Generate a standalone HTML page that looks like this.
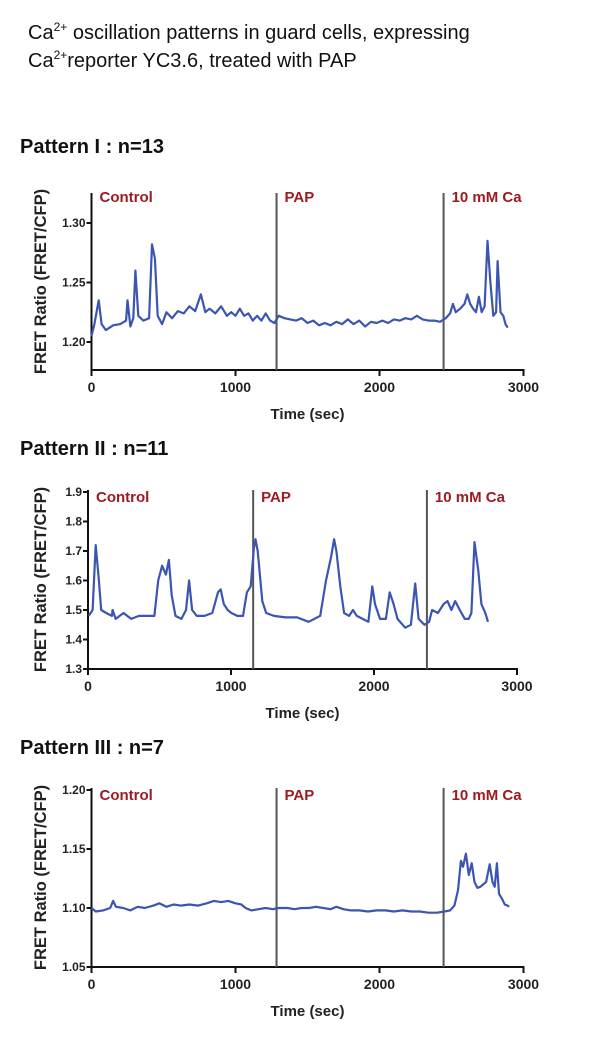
<!DOCTYPE html>
<html><head><meta charset="utf-8"><style>
html,body{margin:0;padding:0;background:#fff;}
svg text{font-family:"Liberation Sans",Arial,sans-serif;}
</style></head><body>
<svg id="fig" width="604" height="1043" viewBox="0 0 604 1043" xmlns="http://www.w3.org/2000/svg">
<text x="28" y="39" font-size="20" fill="#111">Ca<tspan font-size="12" dy="-8">2+</tspan><tspan dy="8"> oscillation patterns in guard cells, expressing</tspan></text>
<text x="28" y="67" font-size="20" fill="#111">Ca<tspan font-size="12" dy="-8">2+</tspan><tspan dy="8">reporter YC3.6, treated with PAP</tspan></text>
</svg>
<script>
// Pattern I data
const p1Times=[0,20,50,70,100,150,200,240,250,270,290,305,325,360,400,420,440,460,490,520,560,600,640,680,720,760,790,820,860,900,940,970,1000,1030,1060,1090,1120,1150,1180,1210,1240,1270,1300,1340,1380,1420,1460,1500,1540,1580,1620,1660,1700,1740,1780,1820,1860,1900,1940,1980,2020,2060,2100,2140,2180,2220,2260,2300,2340,2380,2420,2460,2490,2510,2530,2560,2590,2610,2630,2650,2670,2690,2710,2730,2750,2770,2790,2810,2820,2840,2860,2875,2890];
const p1Values=[1.205,1.215,1.235,1.215,1.210,1.214,1.215,1.218,1.235,1.213,1.220,1.260,1.222,1.218,1.220,1.282,1.270,1.222,1.215,1.225,1.220,1.226,1.224,1.230,1.226,1.240,1.225,1.228,1.224,1.230,1.222,1.225,1.222,1.228,1.222,1.224,1.218,1.222,1.218,1.224,1.218,1.216,1.222,1.220,1.219,1.218,1.220,1.216,1.218,1.214,1.216,1.214,1.217,1.215,1.219,1.215,1.218,1.213,1.217,1.216,1.218,1.216,1.219,1.218,1.220,1.219,1.222,1.219,1.218,1.218,1.217,1.220,1.224,1.232,1.225,1.228,1.232,1.240,1.232,1.228,1.225,1.238,1.225,1.230,1.285,1.250,1.222,1.225,1.268,1.225,1.222,1.215,1.212];
const p1YTicks=[1.20,1.25,1.30];
const p1Events=[1285,2445];
// Pattern II data
const p2Times=[5,32,54,73,92,127,167,172,194,248,302,356,410,464,491,518,545,566,585,612,653,685,707,728,761,815,869,909,928,950,977,1003,1044,1084,1111,1138,1160,1171,1187,1219,1246,1300,1381,1462,1543,1624,1664,1700,1721,1737,1764,1791,1826,1853,1880,1920,1961,1988,2007,2042,2083,2110,2137,2164,2218,2258,2288,2312,2353,2385,2406,2447,2487,2514,2541,2568,2600,2635,2662,2681,2703,2730,2751,2778,2797];
const p2Values=[1.48,1.50,1.72,1.62,1.50,1.49,1.48,1.50,1.47,1.49,1.47,1.48,1.48,1.48,1.60,1.65,1.62,1.67,1.55,1.48,1.47,1.50,1.60,1.50,1.48,1.48,1.49,1.56,1.57,1.52,1.50,1.49,1.48,1.48,1.56,1.58,1.71,1.74,1.70,1.53,1.49,1.48,1.475,1.475,1.46,1.48,1.60,1.68,1.74,1.70,1.58,1.49,1.48,1.50,1.48,1.47,1.46,1.58,1.52,1.47,1.47,1.56,1.52,1.47,1.44,1.45,1.59,1.47,1.45,1.46,1.50,1.49,1.52,1.53,1.50,1.53,1.50,1.47,1.47,1.49,1.73,1.63,1.52,1.49,1.46];
const p2YTicks=[1.3,1.4,1.5,1.6,1.7,1.8,1.9];
const p2Events=[1155,2370];
// Pattern III data
const p3Times=[0,30,80,130,150,170,220,270,320,370,430,470,520,570,620,680,740,800,850,900,950,1000,1040,1070,1110,1160,1210,1260,1300,1360,1410,1460,1510,1560,1610,1660,1700,1750,1800,1860,1920,1980,2040,2100,2160,2220,2280,2340,2400,2450,2490,2520,2545,2565,2580,2600,2620,2640,2660,2680,2700,2720,2740,2765,2785,2800,2815,2830,2850,2870,2890,2900];
const p3Values=[1.100,1.097,1.098,1.100,1.106,1.101,1.100,1.098,1.101,1.100,1.102,1.104,1.101,1.103,1.102,1.103,1.102,1.104,1.106,1.105,1.106,1.104,1.103,1.100,1.098,1.099,1.100,1.099,1.100,1.100,1.099,1.100,1.100,1.101,1.100,1.099,1.101,1.099,1.098,1.098,1.097,1.098,1.098,1.097,1.098,1.097,1.097,1.096,1.096,1.097,1.098,1.102,1.115,1.140,1.135,1.146,1.128,1.138,1.122,1.117,1.118,1.120,1.122,1.137,1.122,1.118,1.138,1.112,1.108,1.103,1.102,1.101];
const p3YTicks=[1.05,1.10,1.15,1.20];
const p3Events=[1285,2445];
const xTicks=[0,1000,2000,3000];
const eventLabels=["Control","PAP","10 mM Ca"];
const panelTitles=["Pattern I : n=13","Pattern II : n=11","Pattern III : n=7"];

const NS="http://www.w3.org/2000/svg";
const svg=document.getElementById('fig');
function mk(tag,attrs,parent){const e=document.createElementNS(NS,tag);for(const k in attrs)e.setAttribute(k,attrs[k]);(parent||svg).appendChild(e);return e;}

function panel(idx,cfg,times,values,yTicks,events){
  const g=mk('g',{});
  
  
  const xs=t=>cfg.x0+t*cfg.xk;
  const ys=v=>cfg.yRef-(v-cfg.vRef)*cfg.yk;
  const t=mk('text',{x:20,y:cfg.titleY,'font-size':20,'font-weight':'bold',fill:'#111'},g);
  t.textContent=panelTitles[idx];
  
  
  const ya=mk('line',{x1:xs(0),y1:cfg.top,x2:xs(0),y2:cfg.bottom,stroke:'#111','stroke-width':2},g);
  
  
  const xa=mk('line',{x1:xs(0)-1,y1:cfg.bottom,x2:xs(3000)+1,y2:cfg.bottom,stroke:'#111','stroke-width':2},g);
  
  
  yTicks.forEach(v=>{
    mk('line',{x1:xs(0)-5,y1:ys(v),x2:xs(0),y2:ys(v),stroke:'#111','stroke-width':2},g);
    const l=mk('text',{x:xs(0)-6,y:ys(v)+4,'font-size':12,'font-weight':'bold','text-anchor':'end',fill:'#222'},g);
    l.textContent=cfg.dec===1?v.toFixed(1):v.toFixed(2);
    
    
  });
  xTicks.forEach(v=>{
    mk('line',{x1:xs(v),y1:cfg.bottom,x2:xs(v),y2:cfg.bottom+6,stroke:'#111','stroke-width':2},g);
    const l=mk('text',{x:xs(v),y:cfg.bottom+22,'font-size':14,'font-weight':'bold','text-anchor':'middle',fill:'#222'},g);
    l.textContent=v;
    
    
  });
  const xt=mk('text',{x:(xs(0)+xs(3000))/2,y:cfg.bottom+49,'font-size':15,'font-weight':'bold','text-anchor':'middle',fill:'#222'},g);
  xt.textContent='Time (sec)';
  
  
  const yc=(cfg.top+cfg.bottom)/2;
  const yt=mk('text',{x:46,y:yc,'font-size':16.5,'font-weight':'bold','text-anchor':'middle',fill:'#222',transform:'rotate(-90 46 '+yc+')'},g);
  yt.textContent='FRET Ratio (FRET/CFP)';
  
  
  events.forEach(ev=>{
    const l=mk('line',{x1:xs(ev),y1:cfg.top,x2:xs(ev),y2:cfg.bottom,stroke:'#555','stroke-width':2},g);
    
    
  });
  const lx=[0,events[0],events[1]];
  eventLabels.forEach((s,i)=>{
    const l=mk('text',{x:xs(lx[i])+8,y:cfg.labelY,'font-size':15,'font-weight':'bold',fill:'#9b1c22'},g);
    l.textContent=s;
    
    
  });
  const d=times.map((tt,i)=>(i?'L':'M')+xs(tt).toFixed(1)+' '+ys(values[i]).toFixed(1)).join(' ');
  const p=mk('path',{d:d,fill:'none',stroke:'#3b55b2','stroke-width':2.2,'stroke-linejoin':'round'},g);
  
  
}
panel(0,{x0:91.5,xk:0.144,yRef:342,vRef:1.20,yk:1190,top:193,bottom:370,titleY:153,labelY:202,dec:2},p1Times,p1Values,p1YTicks,p1Events);
panel(1,{x0:88,xk:0.143,yRef:669,vRef:1.3,yk:295,top:490,bottom:669,titleY:455,labelY:502,dec:1},p2Times,p2Values,p2YTicks,p2Events);
panel(2,{x0:91.5,xk:0.144,yRef:967,vRef:1.05,yk:1180,top:788,bottom:967,titleY:754,labelY:800,dec:2},p3Times,p3Values,p3YTicks,p3Events);
</script>
</body></html>
